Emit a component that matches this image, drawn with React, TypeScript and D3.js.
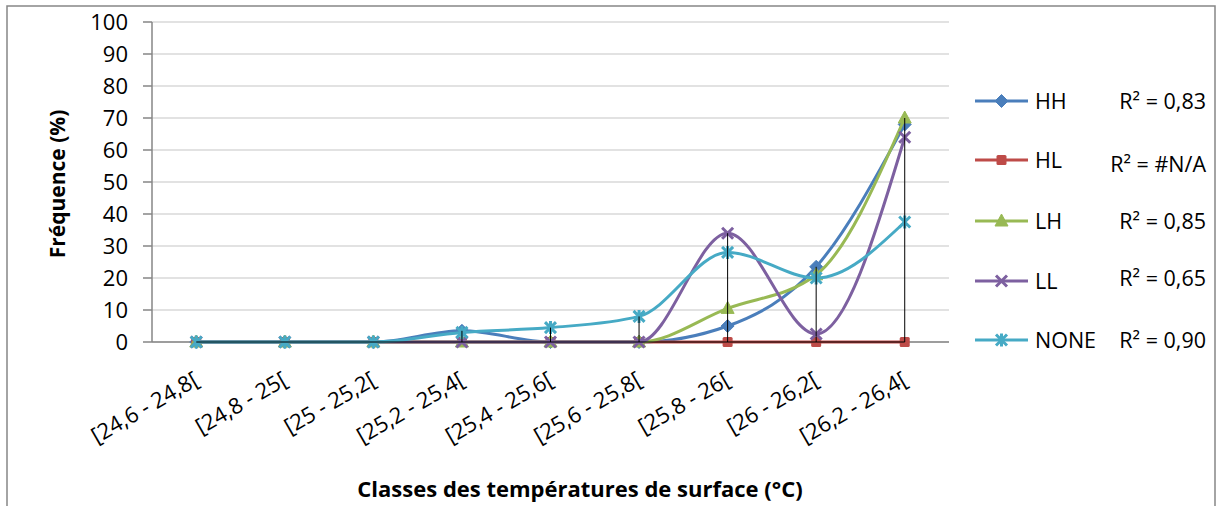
import React from "react";
import * as d3 from "d3";

const categories = [
  "[24,6 - 24,8[",
  "[24,8 - 25[",
  "[25 - 25,2[",
  "[25,2 - 25,4[",
  "[25,4 - 25,6[",
  "[25,6 - 25,8[",
  "[25,8 - 26[",
  "[26 - 26,2[",
  "[26,2 - 26,4[",
];

const seriesNames = ["HH", "HL", "LH", "LL", "NONE"];
const HH = [0, 0, 0, 3.5, 0, 0, 5, 23.5, 68];
const HL = [0, 0, 0, 0, 0, 0, 0, 0, 0];
const LH = [0, 0, 0, 0, 0, 0, 10.5, 21, 70];
const LL = [0, 0, 0, 0, 0, 0, 34, 2.5, 64];
const NONE = [0, 0, 0, 3, 4.5, 8, 28, 20, 37.5];
const rSquared = ["R² = 0,83", "R² = #N/A", "R² = 0,85", "R² = 0,65", "R² = 0,90"];
const yTicks = [0, 10, 20, 30, 40, 50, 60, 70, 80, 90, 100];

const colors = ["#4A7EBB", "#BE4B48", "#98B954", "#7D60A0", "#46AAC5"];
const markers = ["diamond", "square", "triangle", "x", "star"];
const values = [HH, HL, LH, LL, NONE];

const FONT = "'Open Sans', sans-serif";

function Marker({ type, cx, cy, color }: { type: string; cx: number; cy: number; color: string }) {
  const r = 5.5;
  if (type === "diamond") {
    return <path d={`M${cx},${cy - 6.5}L${cx + 6.5},${cy}L${cx},${cy + 6.5}L${cx - 6.5},${cy}Z`} fill={color} stroke={color} strokeWidth={1} />;
  }
  if (type === "square") {
    return <rect x={cx - 5} y={cy - 5} width={10} height={10} rx={1.5} fill={color} />;
  }
  if (type === "triangle") {
    return <path d={`M${cx},${cy - 7}L${cx + 6.5},${cy + 5}L${cx - 6.5},${cy + 5}Z`} fill={color} stroke={color} strokeWidth={1} strokeLinejoin="round" />;
  }
  if (type === "x") {
    return (
      <path d={`M${cx - r},${cy - r}L${cx + r},${cy + r}M${cx - r},${cy + r}L${cx + r},${cy - r}`} stroke={color} strokeWidth={3} fill="none" />
    );
  }
  return (
    <path
      d={`M${cx - r},${cy - r}L${cx + r},${cy + r}M${cx - r},${cy + r}L${cx + r},${cy - r}M${cx},${cy - r - 1}L${cx},${cy + r + 1}`}
      stroke={color}
      strokeWidth={3}
      fill="none"
    />
  );
}

export default function App() {
  const W = 1217;
  const H = 506;
  const left = 152;
  const right = 949;
  const top = 22;
  const bottom = 342;

  const x = d3.scaleBand<string>().domain(categories).range([left, right]).padding(0);
  const cx = (c: string) => (x(c) as number) + x.bandwidth() / 2;
  const y = d3.scaleLinear().domain([0, 100]).range([bottom, top]);

  const line = d3
    .line<number>()
    .x((_, i) => cx(categories[i]))
    .y((d) => y(d))
    .curve(d3.curveMonotoneX);

  const maxes = categories.map((_, i) => Math.max(...values.map((v) => v[i])));

  const legendY = [101, 160, 221, 281, 340];
  const rY = [101, 164, 221, 278, 340];

  return (
    <svg width={W} height={H} style={{ display: "block", position: "absolute", left: 0, top: 0 }}>
      <rect x={0} y={0} width={W} height={H} fill="#fff" />
      <rect x={7} y={6} width={1208} height={520} fill="#fff" stroke="#868686" strokeWidth={1.5} />

      {/* gridlines */}
      {yTicks.map((t) => (
        <line key={t} x1={left} x2={right} y1={y(t)} y2={y(t)} stroke="#D9D9D9" strokeWidth={1.5} />
      ))}

      {/* axes */}
      <line x1={left} x2={left} y1={top} y2={bottom} stroke="#868686" strokeWidth={1.5} />
      <line x1={left} x2={right} y1={bottom} y2={bottom} stroke="#868686" strokeWidth={1.5} />
      {yTicks.map((t) => (
        <line key={"tk" + t} x1={143} x2={left} y1={y(t)} y2={y(t)} stroke="#868686" strokeWidth={1.5} />
      ))}
      {yTicks.map((t) => (
        <text key={"tl" + t} x={128} y={y(t)} dy="0.36em" textAnchor="end" fontFamily={FONT} fontSize={22} fill="#000">
          {t}
        </text>
      ))}

      {/* x labels */}
      {categories.map((c) => (
        <text
          key={c}
          transform={`translate(${cx(c) - 4},${370}) rotate(-30)`}
          textAnchor="end"
          dy="0.74em"
          fontFamily={FONT}
          fontSize={22}
          fill="#000"
        >
          {c}
        </text>
      ))}

      {/* axis titles */}
      <text
        transform={`translate(65,184) rotate(-90)`}
        textAnchor="middle"
        fontFamily={FONT}
        fontWeight="bold"
        fontSize={21}
        fill="#000"
      >
        Fréquence (%)
      </text>
      <text x={580} y={497} textAnchor="middle" fontFamily={FONT} fontWeight="bold" fontSize={22} fill="#000">
        Classes des températures de surface (°C)
      </text>

      {/* series */}
      {values.map((v, si) => (
        <g key={seriesNames[si]}>
          <path d={line(v) as string} fill="none" stroke={colors[si]} strokeWidth={3} strokeLinejoin="round" />
          {v.map((d, i) => (
            <Marker key={i} type={markers[si]} cx={cx(categories[i])} cy={y(d)} color={colors[si]} />
          ))}
        </g>
      ))}

      {/* drop / high-low lines */}
      <line x1={cx(categories[0])} x2={cx(categories[categories.length - 1])} y1={y(0)} y2={y(0)} stroke="#000" strokeWidth={1} />
      {categories.map((c, i) =>
        maxes[i] > 0 ? <line key={"hl" + c} x1={cx(c)} x2={cx(c)} y1={y(0)} y2={y(maxes[i])} stroke="#000" strokeWidth={1} /> : null
      )}

      {/* legend */}
      {seriesNames.map((s, si) => (
        <g key={"lg" + s}>
          <line x1={975} x2={1028} y1={legendY[si]} y2={legendY[si]} stroke={colors[si]} strokeWidth={3} />
          <Marker type={markers[si]} cx={1001.5} cy={legendY[si]} color={colors[si]} />
          <text x={1035} y={legendY[si]} dy="0.36em" fontFamily={FONT} fontSize={21.5} fill="#000">
            {s}
          </text>
          <text x={1206} y={rY[si]} dy="0.36em" textAnchor="end" fontFamily={FONT} fontSize={21.5} fill="#000">
            {rSquared[si]}
          </text>
        </g>
      ))}
    </svg>
  );
}
